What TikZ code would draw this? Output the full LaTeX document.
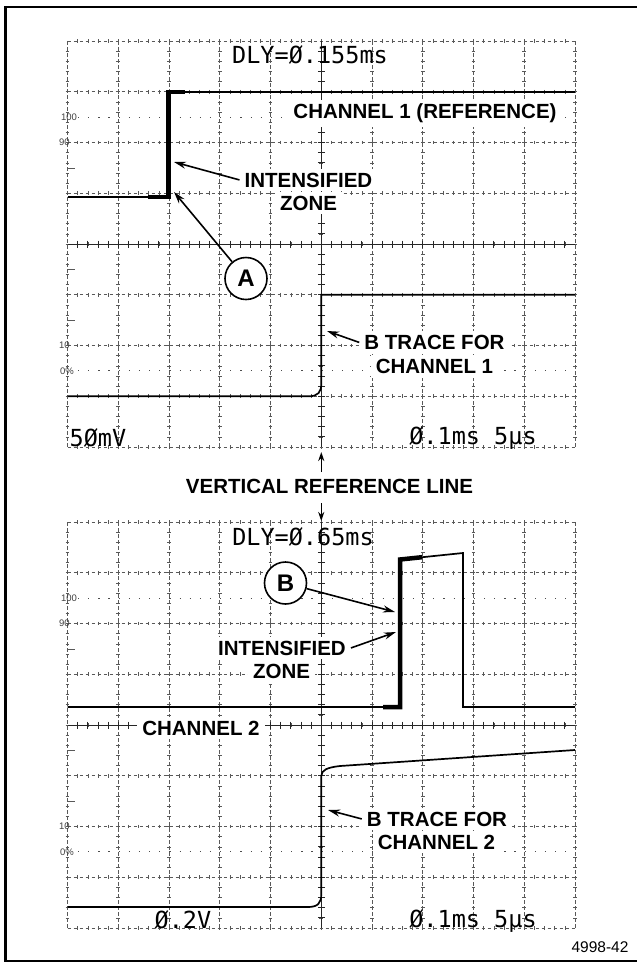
\documentclass[tikz,border=0pt]{standalone}
\usepackage{fontspec}
\setmainfont{Liberation Sans}
\newfontfamily\romono{DejaVu Sans Mono}
\usetikzlibrary{arrows.meta}
\begin{document}
\begin{tikzpicture}[x=1pt,y=-1pt,
  gridline/.style={line width=0.65pt, black!65, dash pattern=on 3.5pt off 2.5pt},
  gtick/.style={line width=0.6pt, black!65},
  ctick/.style={line width=0.8pt, black!85},
  dotline/.style={line width=1pt, black!70, dash pattern=on 1.2pt off 8.95pt},
  trace/.style={line width=1.7pt, line join=miter},
  bright/.style={line width=4.5pt, line cap=butt, line join=miter},
  lbl/.style={font=\bfseries\fontsize{20.5}{24}\selectfont, fill=white, inner xsep=5pt, inner ysep=4pt, anchor=base},
  readout/.style={font=\romono\fontsize{23.5}{28}\selectfont, inner sep=0pt, anchor=base},
  scalelbl/.style={font=\fontsize{9.5}{11}\selectfont, black!75, inner sep=0pt},
  circ/.style={circle, draw, line width=1.6pt, minimum size=42pt, fill=white, inner sep=0pt, font=\bfseries\fontsize{24}{28}\selectfont},
  arr/.style={line width=1.6pt, -{Stealth[length=12pt,width=7pt]}},
  smallarr/.style={line width=1.5pt, -{Stealth[length=9pt,width=6pt]}}
]
\useasboundingbox (0,0) rectangle (637,962);
% outer frame
\draw[line width=1.6pt] (5,7) -- (637,7);
\draw[line width=1.6pt] (5,961) -- (637,961);
\draw[line width=2.4pt] (5.5,6.2) -- (5.5,961.8);
% graticules
\foreach \gy in {41,522}{
  \foreach \i in {0,...,10}{
    \draw[gridline] ({67.5+50.75*\i},\gy) -- ({67.5+50.75*\i},\gy+406);
    \foreach \k in {1,...,39}
      \draw[gtick] ({67.5+50.75*\i-1.8},{\gy+10.15*\k}) -- ++(3.6,0);
  }
  \foreach \j in {0,...,8}{
    \draw[gridline] (67.5,{\gy+50.75*\j}) -- (575,{\gy+50.75*\j});
    \foreach \k in {1,...,49}
      \draw[gtick] ({67.5+10.15*\k},{\gy+50.75*\j-1.8}) -- ++(0,3.6);
  }
  % centre lines with ticks
  \draw[line width=0.8pt, black!85] (321.25,\gy) -- (321.25,\gy+406);
  \draw[line width=0.8pt, black!85] (67.5,\gy+203) -- (575,\gy+203);
  \foreach \k in {1,...,39}
    \draw[ctick] (317.75,{\gy+10.15*\k}) -- ++(7,0);
  \foreach \k in {1,...,49}
    \draw[ctick] ({67.5+10.15*\k},\gy+199.5) -- ++(0,7);
  % 100 % and 0 % dotted lines
  \draw[dotline] (78,\gy+76.1) -- (575,\gy+76.1);
  \draw[dotline] (78,\gy+329.9) -- (575,\gy+329.9);
  % left scale marks
  \foreach \m in {126.9,228.4,279.1}
    \draw[gtick] (67.5,\gy+\m) -- ++(7,0);
  \node[scalelbl] at (69,\gy+76.1) {100};
  \node[scalelbl] at (64.5,\gy+101.5) {90};
  \node[scalelbl] at (64.5,\gy+304.5) {10};
  \node[scalelbl] at (67,\gy+329.9) {0\%};
}
% ---------- upper display ----------
% channel 1 reference trace
\draw[trace] (67.5,197) -- (168.5,197) -- (168.5,91.75) -- (575,91.75);
\draw[bright] (148,197) -- (168.5,197) -- (168.5,91.75) -- (185,91.75);
% B trace channel 1
\draw[trace] (67.5,396.25) -- (309,396.25) .. controls (318,396.25) and (321.25,392) .. (321.25,384) -- (321.25,294.75) -- (575,294.75);

\node[readout] (dly1) at (310,63) {DLY=Ø.155ms};
\node[readout] (v1) at (98,446) {5ØmV};
\node[readout] (tb1) at (473,444) {Ø.1ms 5μs};

\node[lbl] (ch1ref) at (425,118.5) {CHANNEL 1 (REFERENCE)};
\node[lbl] (int1a) at (308.5,187) {INTENSIFIED};
\node[lbl] (int1b) at (308.5,210) {ZONE};
\coordinate (tipA1) at (174,162);
\coordinate (tipA2) at (174,192);
\draw[arr] (int1a.west) -- (tipA1);
\node[circ] (cA) at (246,278.5) {A};
\draw[arr] (cA) -- (tipA2);

\node[lbl] (bt1a) at (434.5,349.5) {B TRACE FOR};
\node[lbl] (bt1b) at (434.5,373.5) {CHANNEL 1};
\coordinate (tipB1) at (327,331);
\draw[arr] (bt1a.west) -- (tipB1);

% ---------- vertical reference line ----------
\node[lbl, fill=none] (vrl) at (329.5,493.5) {VERTICAL REFERENCE LINE};
\coordinate (vup0) at (321.25,472);
\coordinate (vup) at (321.25,452);
\coordinate (vdn0) at (321.25,503);
\coordinate (vdn) at (321.25,521);
\draw[smallarr] (vup0) -- (vup);
\draw[smallarr] (vdn0) -- (vdn);

% ---------- lower display ----------
% channel 2 trace
\draw[trace] (67.5,707) -- (400,707) -- (400,559.5) -- (463,553) -- (463,707) -- (575,707);
\draw[bright] (383,707) -- (400,707) -- (400,559.5) -- (422,557.2);
% B trace channel 2
\draw[trace] (67.5,907) -- (308,907) .. controls (318,907) and (321.25,903) .. (321.25,894) -- (321.25,776) .. controls (321.5,770) and (327,767.5) .. (340,766) -- (575,750);

\node[readout] (dly2) at (303,545) {DLY=Ø.65ms};
\node[readout] (v2) at (183,928) {Ø.2V};
\node[readout] (tb2) at (473,927) {Ø.1ms 5μs};

\node[circ] (cB) at (285.5,583) {B};
\coordinate (tipB2a) at (395,612);
\draw[arr] (cB) -- (tipB2a);
\node[lbl] (int2a) at (282,655) {INTENSIFIED};
\node[lbl] (int2b) at (281.5,678) {ZONE};
\coordinate (tipB2b) at (396,632);
\draw[arr] (int2a.east) -- (tipB2b);

\node[lbl] (ch2) at (201,735) {CHANNEL 2};
\node[lbl] (bt2a) at (437,826) {B TRACE FOR};
\node[lbl] (bt2b) at (436.5,849) {CHANNEL 2};
\coordinate (tipB3) at (328,810);
\draw[arr] (bt2a.west) -- (tipB3);

\node[font=\fontsize{15.5}{18}\selectfont, anchor=base, inner sep=0pt] (fig) at (600,952) {4998-42};
\end{tikzpicture}
\end{document}
